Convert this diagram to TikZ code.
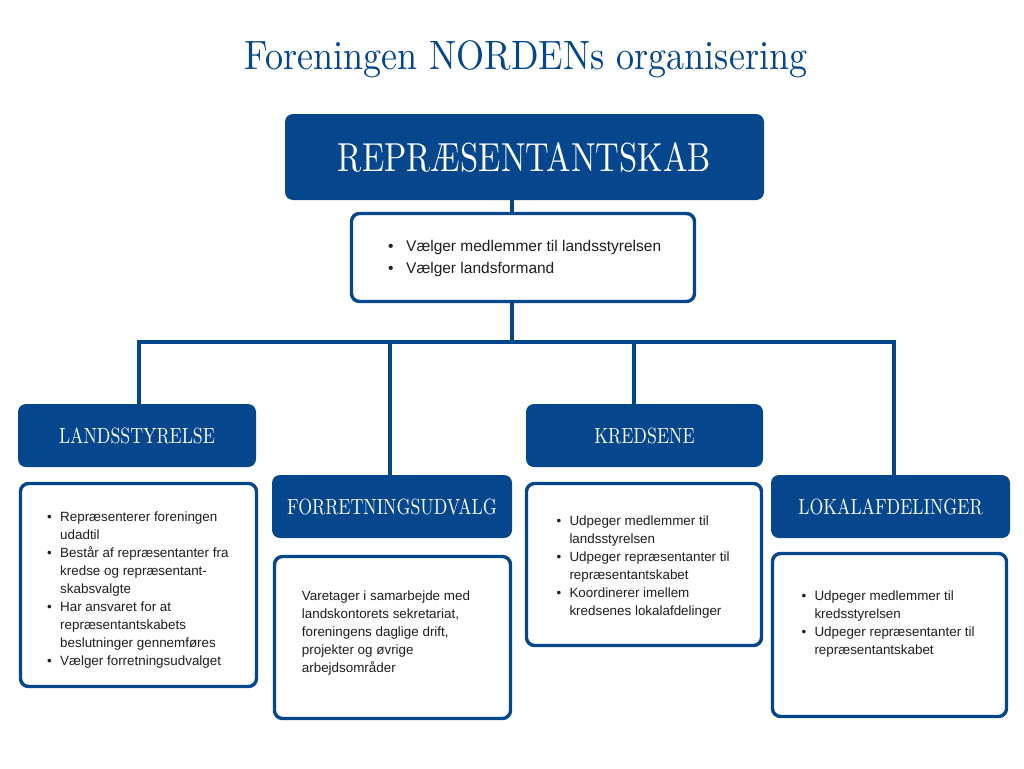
\documentclass[tikz,border=0pt]{standalone}
\usepackage{fontspec}
\setsansfont{Liberation Sans}
\newfontfamily\headfont{lmroman10-regular}[Extension=.otf,FakeStretch=0.81]
\newfontfamily\titlefont{lmroman10-regular}[Extension=.otf,FakeStretch=0.88]
\definecolor{nblue}{HTML}{05468C}
\definecolor{ink}{HTML}{1E1E1E}
\newcommand{\itm}[1][13pt]{\makebox[#1][l]{\textbullet}}
\newcommand{\cnt}[1][13pt]{\hspace*{#1}}

\begin{document}
\begin{tikzpicture}[
  x=1pt,y=-1pt,
  head/.style={fill=nblue,rounded corners=8pt,text=white,font=\headfont\fontsize{22}{26}\selectfont,minimum width=238pt,minimum height=63pt,inner sep=0pt},
  body/.style={draw=nblue,line width=3.4pt,fill=white,rounded corners=8pt,minimum width=236pt,inner sep=0pt},
  txt/.style={anchor=base west,align=left,inner sep=0pt,text=ink,font=\sffamily\fontsize{13.4}{18}\selectfont},
  link/.style={draw=nblue,line width=3.2pt}
]
  \useasboundingbox (0,0) rectangle (1024,768);
  \node[anchor=base,text=nblue,font=\titlefont\fontsize{41}{48}\selectfont] (title) at (526,69) {Foreningen NORDENs organisering};

  \node[head,minimum width=479pt,minimum height=86pt,font=\headfont\fontsize{40.5}{46}\selectfont] (rep) at (524.5,157) {REPRÆSENTANTSKAB};
  \node[body,minimum width=343pt,minimum height=88pt] (valg) at (523,257.5) {};
  % base anchor sits on the last line
  \node[txt,font=\sffamily\fontsize{15.5}{22}\selectfont] (valgtxt) at (388,273.7) {\itm[18pt]Vælger medlemmer til landsstyrelsen\\ \itm[18pt]Vælger landsformand};

  \node[head] (ls) at (137,435.5) {LANDSSTYRELSE};
  \node[head,minimum width=240pt] (fu) at (392,506.5) {FORRETNINGSUDVALG};
  \node[head,minimum width=237pt] (kr) at (644.5,435.5) {KREDSENE};
  \node[head,minimum width=239pt] (lo) at (890.5,506.5) {LOKALAFDELINGER};

  \node[body,minimum height=203pt] (lsbody) at (138.5,585) {};
  \node[body,minimum height=162pt] (fubody) at (392.5,637.5) {};
  \node[body,minimum width=235pt,minimum height=162pt] (krbody) at (644,564.5) {};
  \node[body,minimum width=234pt,minimum height=163pt] (lobody) at (889.5,635) {};

  \node[txt] (lstxt) at (47,665.7) {\itm Repræsenterer foreningen\\ \cnt udadtil\\ \itm Består af repræsentanter fra\\ \cnt kredse og repræsentant-\\ \cnt skabsvalgte\\ \itm Har ansvaret for at\\ \cnt repræsentantskabets\\ \cnt beslutninger gennemføres\\ \itm Vælger forretningsudvalget};
  \node[txt] (futxt) at (301.7,672) {Varetager i samarbejde med\\ landskontorets sekretariat,\\ foreningens daglige drift,\\ projekter og øvrige\\ arbejdsområder};
  \node[txt] (krtxt) at (556.3,615) {\itm Udpeger medlemmer til\\ \cnt landsstyrelsen\\ \itm Udpeger repræsentanter til\\ \cnt repræsentantskabet\\ \itm Koordinerer imellem\\ \cnt kredsenes lokalafdelinger};
  \node[txt] (lotxt) at (801.3,654) {\itm Udpeger medlemmer til\\ \cnt kredsstyrelsen\\ \itm Udpeger repræsentanter til\\ \cnt repræsentantskabet};

  \coordinate (hub) at (512,342);
  \draw[link] (hub |- rep.south) -- (hub |- valg.north);
  \draw[link] (hub |- valg.south) -- (hub);
  \draw[link] ([xshift=2pt]ls.north) |- (hub);
  \draw[link] ([xshift=-2pt]fu.north) |- (hub);
  \draw[link] ([xshift=-10.5pt]kr.north) |- (hub);
  \draw[link] ([xshift=3.5pt]lo.north) |- (hub);
\end{tikzpicture}
\end{document}
